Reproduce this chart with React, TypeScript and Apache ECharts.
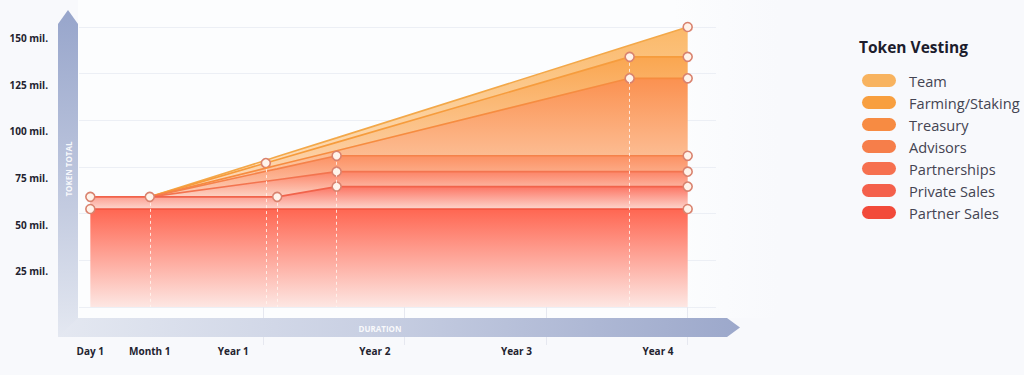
import React, { useEffect, useRef } from "react";
import * as echarts from "echarts";

// Timeline positions (in "year" units of the drawing): Day 1, Month 1, Year 1, ~Year 1.1, ~Year 1.5, ~Year 3.6, Year 4
const xPositions = [-0.22, 0.2, 1.02, 1.1, 1.52, 3.59, 4.0];

// Series (bottom to top of the stack)
const seriesNames = [
  "Partner Sales",
  "Private Sales",
  "Partnerships",
  "Advisors",
  "Treasury",
  "Farming/Staking",
  "Team",
];

// Cumulative token totals (mil.) reached by the top edge of each band
const partnerSalesCum = [52.5, 52.5, 52.5, 52.5, 52.5, 52.5, 52.5];
const privateSalesCum = [59, 59, 59, 59, 64.5, 64.5, 64.5];
const partnershipsCum = [59, 59, 67.4, 68.2, 72.5, 72.5, 72.5];
const advisorsCum = [59, 59, 72.7, 74.0, 81, 81, 81];
const treasuryCum = [59, 59, 74.4, 75.9, 83.7, 122.5, 122.5];
const farmingCum = [59, 59, 77.1, 78.9, 88.2, 134, 134];
const teamCum = [59, 59, 78.6, 80.6, 90.6, 140.2, 150];

// Which points carry a marker circle, per series
const markedPoints = [
  [0, 6],
  [0, 1, 3, 4, 6],
  [4, 6],
  [4, 6],
  [5, 6],
  [2, 5, 6],
  [6],
];
// Points with a dashed guide line down to zero
const guideIndices = [1, 2, 3, 4, 5];

// X labels
const tickLabels = ["Day 1", "Month 1", "Year 1", "Year 2", "Year 3", "Year 4"];
const tickLabelPositions = [-0.22, 0.2, 0.79, 1.79, 2.79, 3.79];
const yearBoundaries = [1, 2, 3, 4];

const legendOrder = [
  "Team",
  "Farming/Staking",
  "Treasury",
  "Advisors",
  "Partnerships",
  "Private Sales",
  "Partner Sales",
];

const cumulative = [
  partnerSalesCum,
  privateSalesCum,
  partnershipsCum,
  advisorsCum,
  treasuryCum,
  farmingCum,
  teamCum,
];

const legendColors: Record<string, string> = {
  Team: "#f8b35f",
  "Farming/Staking": "#f89f3f",
  Treasury: "#f78b42",
  Advisors: "#f67e4a",
  Partnerships: "#f6704f",
  "Private Sales": "#f4604b",
  "Partner Sales": "#f24a3a",
};
const lineColors = ["#ef5540", "#f1634b", "#f3744f", "#f5824a", "#f68c40", "#f69c3d", "#f3a849"];
const areaTop = ["#ff6651", "#fc7563", "#fc8467", "#fc9163", "#fb9150", "#faa650", "#fbb868"];
const areaBottom = ["#fde7e3", "#fdd5cc", "#fdd3c4", "#fdd2bd", "#fdd3b5", "#fde0c4", "#fde6cc"];

const FONT = "Open Sans";

export default function App() {
  const ref = useRef<HTMLDivElement>(null);

  useEffect(() => {
    if (!ref.current) return;
    const chart = echarts.init(ref.current, undefined, { renderer: "svg" });

    const series: any[] = seriesNames.map((name, i) => {
      const data = xPositions.map((x, j) => {
        const below = i > 0 ? cumulative[i - 1][j] : 0;
        const inc = Math.round((cumulative[i][j] - below) * 100) / 100;
        const marked = markedPoints[i].includes(j);
        return {
          // [value, position]: value first so the stack runs on the y dimension
          value: [inc, x],
          symbol: marked ? "circle" : "none",
          itemStyle: { color: "#fff3ea", borderColor: "#d9826e", borderWidth: 1.6 },
        };
      });
      const s: any = {
        type: "line",
        name,
        stack: "total",
        encode: { x: 1, y: 0 },
        data,
        symbolSize: 9,
        showSymbol: true,
        itemStyle: { color: legendColors[name] },
        lineStyle: { color: lineColors[i], width: 1.6 },
        areaStyle: {
          opacity: 1,
          color: new echarts.graphic.LinearGradient(0, 0, 0, 1, [
            { offset: 0, color: areaTop[i] },
            { offset: 1, color: areaBottom[i] },
          ]),
        },
        z: 10 - i,
        emphasis: { disabled: true },
      };
      if (i === seriesNames.length - 1) {
        s.markLine = {
          silent: true,
          symbol: ["none", "none"],
          z: 30,
          label: { show: false },
          lineStyle: { color: "rgba(255,245,238,0.85)", type: [3, 3], width: 1 },
          data: guideIndices.map((j) => {
            let top = 0;
            markedPoints.forEach((pts, si) => {
              if (pts.includes(j)) top = Math.max(top, cumulative[si][j]);
            });
            return [{ coord: [xPositions[j], top] }, { coord: [xPositions[j], 0] }];
          }),
        };
      }
      return s;
    });

    const pillPath =
      "path://M6.5,0 L27.5,0 A6.5,6.5 0 0 1 27.5,13 L6.5,13 A6.5,6.5 0 0 1 6.5,0 Z";

    const option: any = {
      animation: false,
      backgroundColor: "#f8f9fc",
      textStyle: { fontFamily: FONT },
      title: {
        text: "Token Vesting",
        left: 854,
        top: 34,
        textStyle: { fontFamily: FONT, fontSize: 15.5, fontWeight: "bold", color: "#1c1c2c" },
      },
      legend: {
        orient: "vertical",
        left: 857,
        top: 68,
        itemWidth: 34,
        itemHeight: 13,
        itemGap: 7,
        selectedMode: false,
        data: legendOrder.map((n) => ({
          name: n,
          icon: pillPath,
          itemStyle: { color: legendColors[n], borderWidth: 0 },
        })),
        textStyle: {
          fontFamily: FONT,
          fontSize: 14.6,
          lineHeight: 13,
          color: "#444452",
          padding: [0, 0, 0, 8],
        },
      },
      grid: { left: 79, right: 308, top: 27, bottom: 68 },
      xAxis: {
        type: "value",
        min: -0.3,
        max: 4.2,
        offset: 30,
        axisLine: { show: false },
        splitLine: { show: false },
        axisTick: {
          show: true,
          customValues: yearBoundaries,
          length: 38,
          lineStyle: { color: "#e6e8f0", width: 1 },
        },
        axisLabel: {
          show: true,
          customValues: tickLabelPositions,
          margin: 9,
          fontFamily: FONT,
          fontSize: 10,
          fontWeight: "bold",
          color: "#23232f",
          formatter: (v: number) => {
            const k = tickLabelPositions.findIndex((p) => Math.abs(p - v) < 1e-6);
            return k >= 0 ? tickLabels[k] : "";
          },
        },
      },
      yAxis: {
        type: "value",
        min: 0,
        max: 150,
        interval: 25,
        axisLine: { show: false },
        axisTick: { show: false },
        splitLine: { lineStyle: { color: "#eceff5", width: 1 } },
        axisLabel: {
          showMinLabel: false,
          formatter: "{value} mil.",
          margin: 31,
          fontFamily: FONT,
          fontSize: 10,
          fontWeight: "bold",
          color: "#23232f",
          verticalAlign: "top",
          padding: [6, 0, 0, 0],
        },
      },
      graphic: [
        {
          type: "rect",
          z: 0,
          shape: { x: 78, y: 0, width: 700, height: 318 },
          style: {
            fill: new echarts.graphic.LinearGradient(0, 0, 1, 0, [
              { offset: 0, color: "#fcfdfe" },
              { offset: 0.85, color: "#fcfdfe" },
              { offset: 1, color: "#f8f9fc" },
            ]),
          },
          silent: true,
        },
        {
          type: "polygon",
          z: 1,
          shape: {
            points: [
              [58, 318],
              [727, 318],
              [740, 327.5],
              [727, 337],
              [58, 337],
            ],
          },
          style: {
            fill: new echarts.graphic.LinearGradient(0, 0, 1, 0, [
              { offset: 0, color: "#e4e8f1" },
              { offset: 0.45, color: "#c9d0e3" },
              { offset: 1, color: "#9ca8cb" },
            ]),
          },
          silent: true,
        },
        {
          type: "polygon",
          z: 2,
          shape: {
            points: [
              [58, 337],
              [58, 24],
              [68, 10],
              [78, 24],
              [78, 318],
            ],
          },
          style: {
            fill: new echarts.graphic.LinearGradient(0, 0, 0, 1, [
              { offset: 0, color: "#97a5cb" },
              { offset: 0.6, color: "#c3cbe0" },
              { offset: 1, color: "#e4e8f1" },
            ]),
          },
          silent: true,
        },
        {
          type: "text",
          z: 3,
          x: 68,
          y: 169,
          rotation: Math.PI / 2,
          silent: true,
          style: {
            text: "TOKEN TOTAL",
            fill: "rgba(255,255,255,0.9)",
            font: `bold 8px "${FONT}"`,
            align: "center",
            verticalAlign: "middle",
          },
        },
        {
          type: "text",
          z: 3,
          x: 380,
          y: 328,
          silent: true,
          style: {
            text: "DURATION",
            fill: "rgba(255,255,255,0.9)",
            font: `bold 8px "${FONT}"`,
            align: "center",
            verticalAlign: "middle",
          },
        },
      ],
      series,
    };

    chart.setOption(option);
    return () => chart.dispose();
  }, []);

  return (
    <div
      ref={ref}
      style={{ position: "absolute", left: 0, top: 0, width: 1024, height: 375 }}
    />
  );
}
